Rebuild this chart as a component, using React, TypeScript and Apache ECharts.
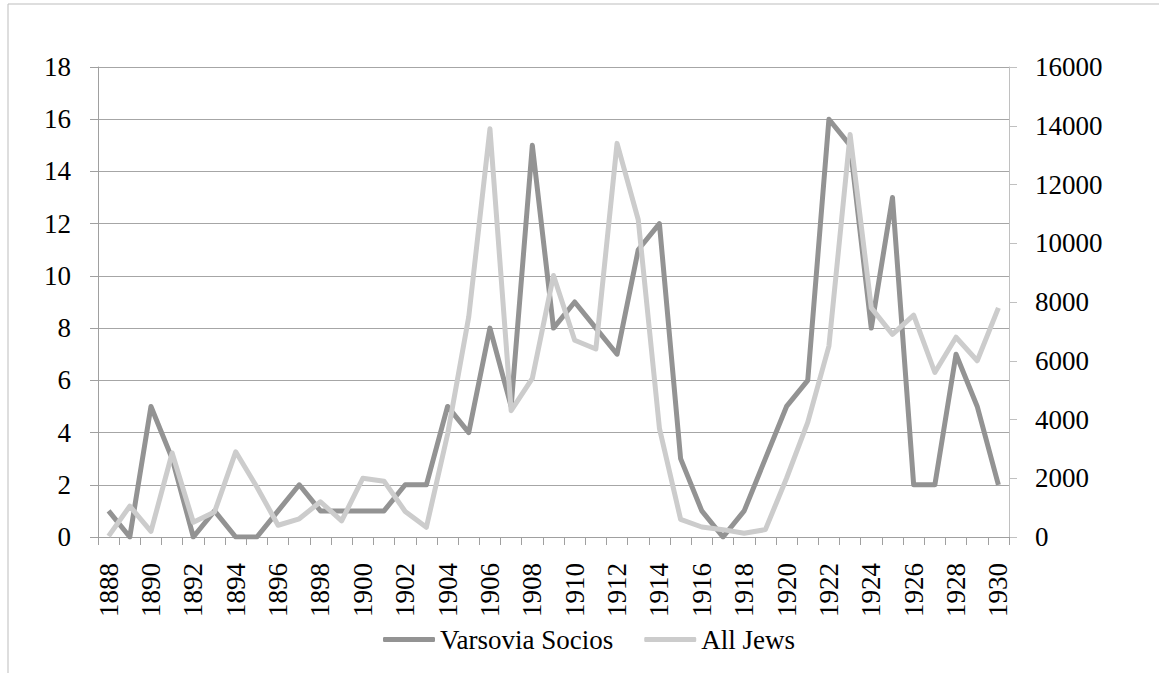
import React, { useEffect, useRef } from "react";
import * as echarts from "echarts";

const years: string[] = [
  "1888","1889","1890","1891","1892","1893","1894","1895","1896","1897",
  "1898","1899","1900","1901","1902","1903","1904","1905","1906","1907",
  "1908","1909","1910","1911","1912","1913","1914","1915","1916","1917",
  "1918","1919","1920","1921","1922","1923","1924","1925","1926","1927",
  "1928","1929","1930",
];

const varsoviaSocios: number[] = [
  1, 0, 5, 3, 0, 1, 0, 0, 1, 2,
  1, 1, 1, 1, 2, 2, 5, 4, 8, 5,
  15, 8, 9, 8, 7, 11, 12, 3, 1, 0,
  1, 3, 5, 6, 16, 15, 8, 13, 2, 2,
  7, 5, 2,
];

const allJews: number[] = [
  30, 1050, 190, 2860, 500, 850, 2900, 1700, 400, 620,
  1200, 550, 2000, 1900, 870, 330, 3500, 7500, 13900, 4300,
  5400, 8900, 6700, 6400, 13400, 10800, 3700, 600, 340, 250,
  130, 250, 2000, 3900, 6500, 13700, 7800, 6900, 7550, 5600,
  6800, 6000, 7800,
];

const seriesNames = ["Varsovia Socios", "All Jews"];

const FONT = "serif";
const FS = 27;

export default function App() {
  const ref = useRef<HTMLDivElement>(null);
  useEffect(() => {
    if (!ref.current) return;
    const chart = echarts.init(ref.current, undefined, { renderer: "svg" });
    chart.setOption({
      animation: false,
      backgroundColor: "#ffffff",
      textStyle: { fontFamily: FONT, fontSize: FS },
      graphic: [
        {
          type: "rect",
          shape: { x: 8, y: 4, width: 1300, height: 800 },
          style: { fill: "none", stroke: "#bdbdbd", lineWidth: 1 },
          silent: true,
        },
      ],
      grid: { left: 98, right: 150, top: 67, bottom: 136, containLabel: false },
      legend: {
        left: 378,
        top: 621,
        icon: "roundRect",
        itemWidth: 52,
        itemHeight: 5,
        itemGap: 31,
        data: seriesNames,
        textStyle: { fontFamily: FONT, fontSize: FS, color: "#000" },
      },
      xAxis: {
        type: "category",
        data: years,
        boundaryGap: true,
        axisLine: { lineStyle: { color: "#a0a0a0", width: 1 } },
        axisTick: {
          show: true,
          interval: 0,
          length: 8,
          inside: false,
          lineStyle: { color: "#a0a0a0" },
        },
        axisLabel: {
          interval: 1,
          rotate: 90,
          margin: 26,
          fontFamily: FONT,
          fontSize: FS,
          color: "#000",
        },
        splitLine: { show: false },
      },
      yAxis: [
        {
          type: "value",
          min: 0,
          max: 18,
          interval: 2,
          position: "left",
          axisLine: { show: true, lineStyle: { color: "#a0a0a0" } },
          axisTick: { show: true, length: 8, lineStyle: { color: "#a0a0a0" } },
          axisLabel: { margin: 27, fontFamily: FONT, fontSize: FS, color: "#000" },
          splitLine: { show: true, lineStyle: { color: "#a6a6a6", width: 1 } },
        },
        {
          type: "value",
          min: 0,
          max: 16000,
          interval: 2000,
          position: "right",
          axisLine: { show: true, lineStyle: { color: "#c0c0c0" } },
          axisTick: { show: true, length: 8, lineStyle: { color: "#c0c0c0" } },
          axisLabel: {
            margin: 26,
            fontFamily: FONT,
            fontSize: FS,
            color: "#000",
            formatter: (v: number) => String(v),
          },
          splitLine: { show: false },
        },
      ],
      series: [
        {
          name: seriesNames[0],
          type: "line",
          yAxisIndex: 0,
          data: varsoviaSocios,
          showSymbol: false,
          symbol: "none",
          color: "#939393",
          lineStyle: { color: "#939393", width: 5, join: "round" },
        },
        {
          name: seriesNames[1],
          type: "line",
          yAxisIndex: 1,
          data: allJews,
          showSymbol: false,
          symbol: "none",
          color: "#cccccc",
          lineStyle: { color: "#cccccc", width: 5, join: "round" },
        },
      ],
    });
    return () => chart.dispose();
  }, []);
  return (
    <div
      ref={ref}
      style={{ position: "fixed", left: 0, top: 0, width: 1159, height: 673 }}
    />
  );
}
